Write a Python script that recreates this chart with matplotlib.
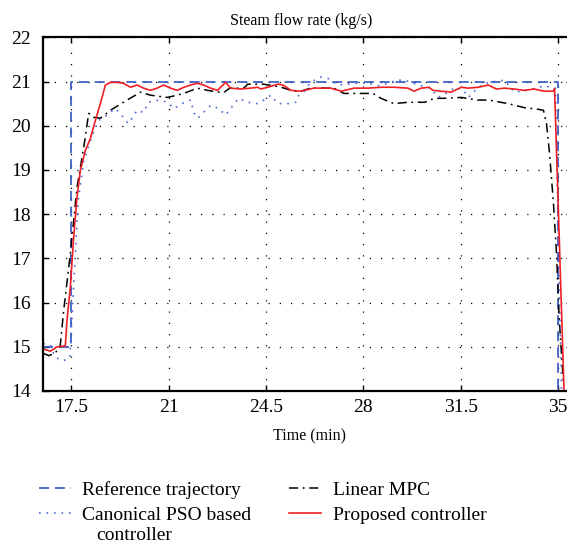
"""Steam flow rate response: reference vs. controllers."""

import matplotlib

matplotlib.use("Agg")
import matplotlib.pyplot as plt

# reference trajectory (step up, step down)
ref_t = [16.5, 17.5, 17.5, 35.0, 35.0]
ref_y = [15.0, 15.0, 21.0, 21.0, 14.0]

# canonical PSO based controller
pso_t = [16.5, 16.75, 16.9, 17.05, 17.2, 17.45, 17.6, 17.75, 17.95, 18.13,
         18.31, 18.49, 18.79, 19.08, 19.27, 19.45, 19.56, 19.69, 19.87, 20.1,
         20.28, 20.52, 20.95, 21.2, 21.43, 21.67, 21.8, 21.9, 22.05, 22.26,
         22.51, 22.8, 23.05, 23.23, 23.52, 23.85, 24.2, 24.42, 24.67, 24.93,
         25.29, 25.57, 25.68, 25.86, 26.1, 26.46, 26.72, 27.08, 27.8, 28.17,
         28.6, 29.2, 29.5, 29.7, 30.1, 30.4, 30.7, 31.05, 31.3, 31.6,
         31.77, 32.13, 32.49, 33.07, 33.42, 33.9, 34.5, 34.9, 35.02, 35.12]
pso_y = [15.07, 15.05, 14.8, 14.72, 14.68, 14.75, 16.5, 18.3, 19.2, 19.55,
         19.86, 20.12, 20.24, 20.39, 20.28, 20.12, 20.05, 20.17, 20.35, 20.3,
         20.53, 20.58, 20.54, 20.39, 20.48, 20.56, 20.58, 20.3, 20.17, 20.3,
         20.46, 20.39, 20.24, 20.39, 20.62, 20.53, 20.5, 20.58, 20.69, 20.5,
         20.5, 20.53, 20.69, 20.76, 20.98, 21.1, 21.07, 20.92, 20.96, 20.96,
         20.9, 21.03, 21.03, 20.98, 20.9, 20.85, 20.64, 20.76, 20.87, 20.8,
         20.64, 20.87, 20.98, 21.03, 20.76, 20.8, 20.9, 20.85, 17.0, 14.0]

# linear MPC
mpc_t = [16.5, 16.7, 16.9, 17.1, 17.23, 17.47, 17.71, 17.95, 18.13, 18.31,
         18.55, 18.91, 19.51, 20.0, 20.35, 20.95, 21.31, 21.67, 22.03, 22.4,
         22.8, 23.0, 23.2, 23.7, 23.85, 24.4, 25.0, 25.5, 25.75, 26.1,
         26.95, 27.3, 27.65, 28.0, 28.35, 28.63, 29.1, 29.6, 30.2, 30.55,
         30.9, 31.52, 32.1, 32.5, 33.2, 33.9, 34.1, 34.47, 34.58, 34.69,
         34.83, 34.94, 35.04, 35.19]
mpc_y = [14.85, 14.8, 14.85, 14.98, 15.81, 17.1, 18.6, 19.5, 20.28, 20.19,
         20.17, 20.35, 20.58, 20.76, 20.69, 20.64, 20.69, 20.76, 20.85, 20.8,
         20.76, 20.76, 20.85, 20.85, 20.94, 20.94, 20.88, 20.78, 20.78, 20.85,
         20.85, 20.73, 20.73, 20.73, 20.73, 20.62, 20.5, 20.53, 20.53, 20.62,
         20.62, 20.64, 20.58, 20.58, 20.5, 20.39, 20.39, 20.35, 20.05, 19.37,
         18.24, 17.1, 15.6, 14.16]

# proposed controller
prop_t = [16.5, 16.75, 17.0, 17.29, 17.35, 17.47, 17.59, 17.71, 17.83, 18.01,
          18.19, 18.37, 18.55, 18.73, 18.91, 19.15, 19.38, 19.63, 19.87, 20.1,
          20.35, 20.59, 20.82, 21.07, 21.31, 21.55, 21.79, 22.03, 22.26, 22.51,
          22.76, 22.87, 23.05, 23.23, 23.59, 23.95, 24.2, 24.31, 24.57, 24.93,
          25.11, 25.4, 25.75, 26.22, 26.83, 27.2, 27.66, 28.17, 28.64, 29.1,
          29.6, 29.82, 30.08, 30.36, 30.5, 30.8, 31.16, 31.52, 31.77, 32.13,
          32.49, 32.78, 33.07, 33.42, 33.78, 34.14, 34.5, 34.83, 34.87, 35.21]
prop_y = [14.95, 14.9, 15.0, 15.02, 15.59, 16.34, 17.47, 18.38, 18.99, 19.44,
          19.71, 20.12, 20.5, 20.92, 20.98, 20.98, 20.96, 20.87, 20.92, 20.85,
          20.8, 20.85, 20.92, 20.85, 20.8, 20.87, 20.92, 20.96, 20.92, 20.85,
          20.8, 20.87, 20.98, 20.85, 20.83, 20.85, 20.87, 20.83, 20.87, 20.94,
          20.92, 20.8, 20.78, 20.85, 20.85, 20.78, 20.85, 20.85, 20.87, 20.87,
          20.85, 20.78, 20.85, 20.87, 20.8, 20.78, 20.76, 20.87, 20.85, 20.87,
          20.92, 20.83, 20.85, 20.83, 20.8, 20.83, 20.78, 20.78, 20.84, 14.0]

x_ticks = [17.5, 21, 24.5, 28, 31.5, 35]
x_tick_labels = ["17.5", "21", "24.5", "28", "31.5", "35"]
y_ticks = [14, 15, 16, 17, 18, 19, 20, 21, 22]

plt.rcParams["font.family"] = ["Liberation Serif", "DejaVu Serif"]

fig = plt.figure(figsize=(5.67, 5.46), dpi=100)
# right edge runs just past the image, as in the cropped original
ax = fig.add_axes([0.0764, 0.2839, 0.9326, 0.6478])

ax.plot(ref_t, ref_y, color="#2f55c0", lw=1.2, ls=(0, (6, 3.5)),
        label="Reference trajectory")
ax.plot(mpc_t, mpc_y, color="black", lw=1.1, ls=(0, (6, 3, 1.2, 3)),
        label="Linear MPC")
ax.plot(pso_t, pso_y, color="#4a6ad6", lw=1.2, ls=(0, (1, 3.5)),
        label="Canonical PSO based")
ax.plot(prop_t, prop_y, color="#ee2025", lw=1.2, label="Proposed controller")

ax.set_xlim(16.5, 35.5)
ax.set_ylim(14, 22)
ax.set_xticks(x_ticks, x_tick_labels)
ax.set_yticks(y_ticks)
ax.grid(True, color="black", ls=(0, (1, 8)), lw=0.9)
ax.tick_params(direction="in", top=True, right=True, length=4, width=1,
               labelsize=14, pad=6)
ax.tick_params(axis="y", pad=9)
for sp in ax.spines.values():
    sp.set_linewidth(1.6)

ax.set_title("Steam flow rate (kg/s)", fontsize=11.5, pad=9, x=0.487)
ax.set_xlabel("Time (min)", fontsize=11.5)
ax.xaxis.set_label_coords(0.504, -0.105)

handles, labels = ax.get_legend_handles_labels()
# column-major fill: ref, pso | mpc, proposed
leg = fig.legend(
    [handles[i] for i in [0, 2, 1, 3]],
    [labels[i] for i in [0, 2, 1, 3]],
    ncol=2,
    loc="upper left",
    bbox_to_anchor=(0.068, 0.1183),
    bbox_transform=fig.transFigure,
    frameon=False,
    fontsize=14,
    handlelength=1.65,
    handletextpad=0.6,
    columnspacing=1.95,
    labelspacing=0.38,
    borderpad=0,
    borderaxespad=0,
)
# second line of the PSO label, indented like the original
fig.text(0.169, 0.003, "controller", fontsize=14, va="bottom", ha="left")

fig.savefig("out.png", dpi=100)
